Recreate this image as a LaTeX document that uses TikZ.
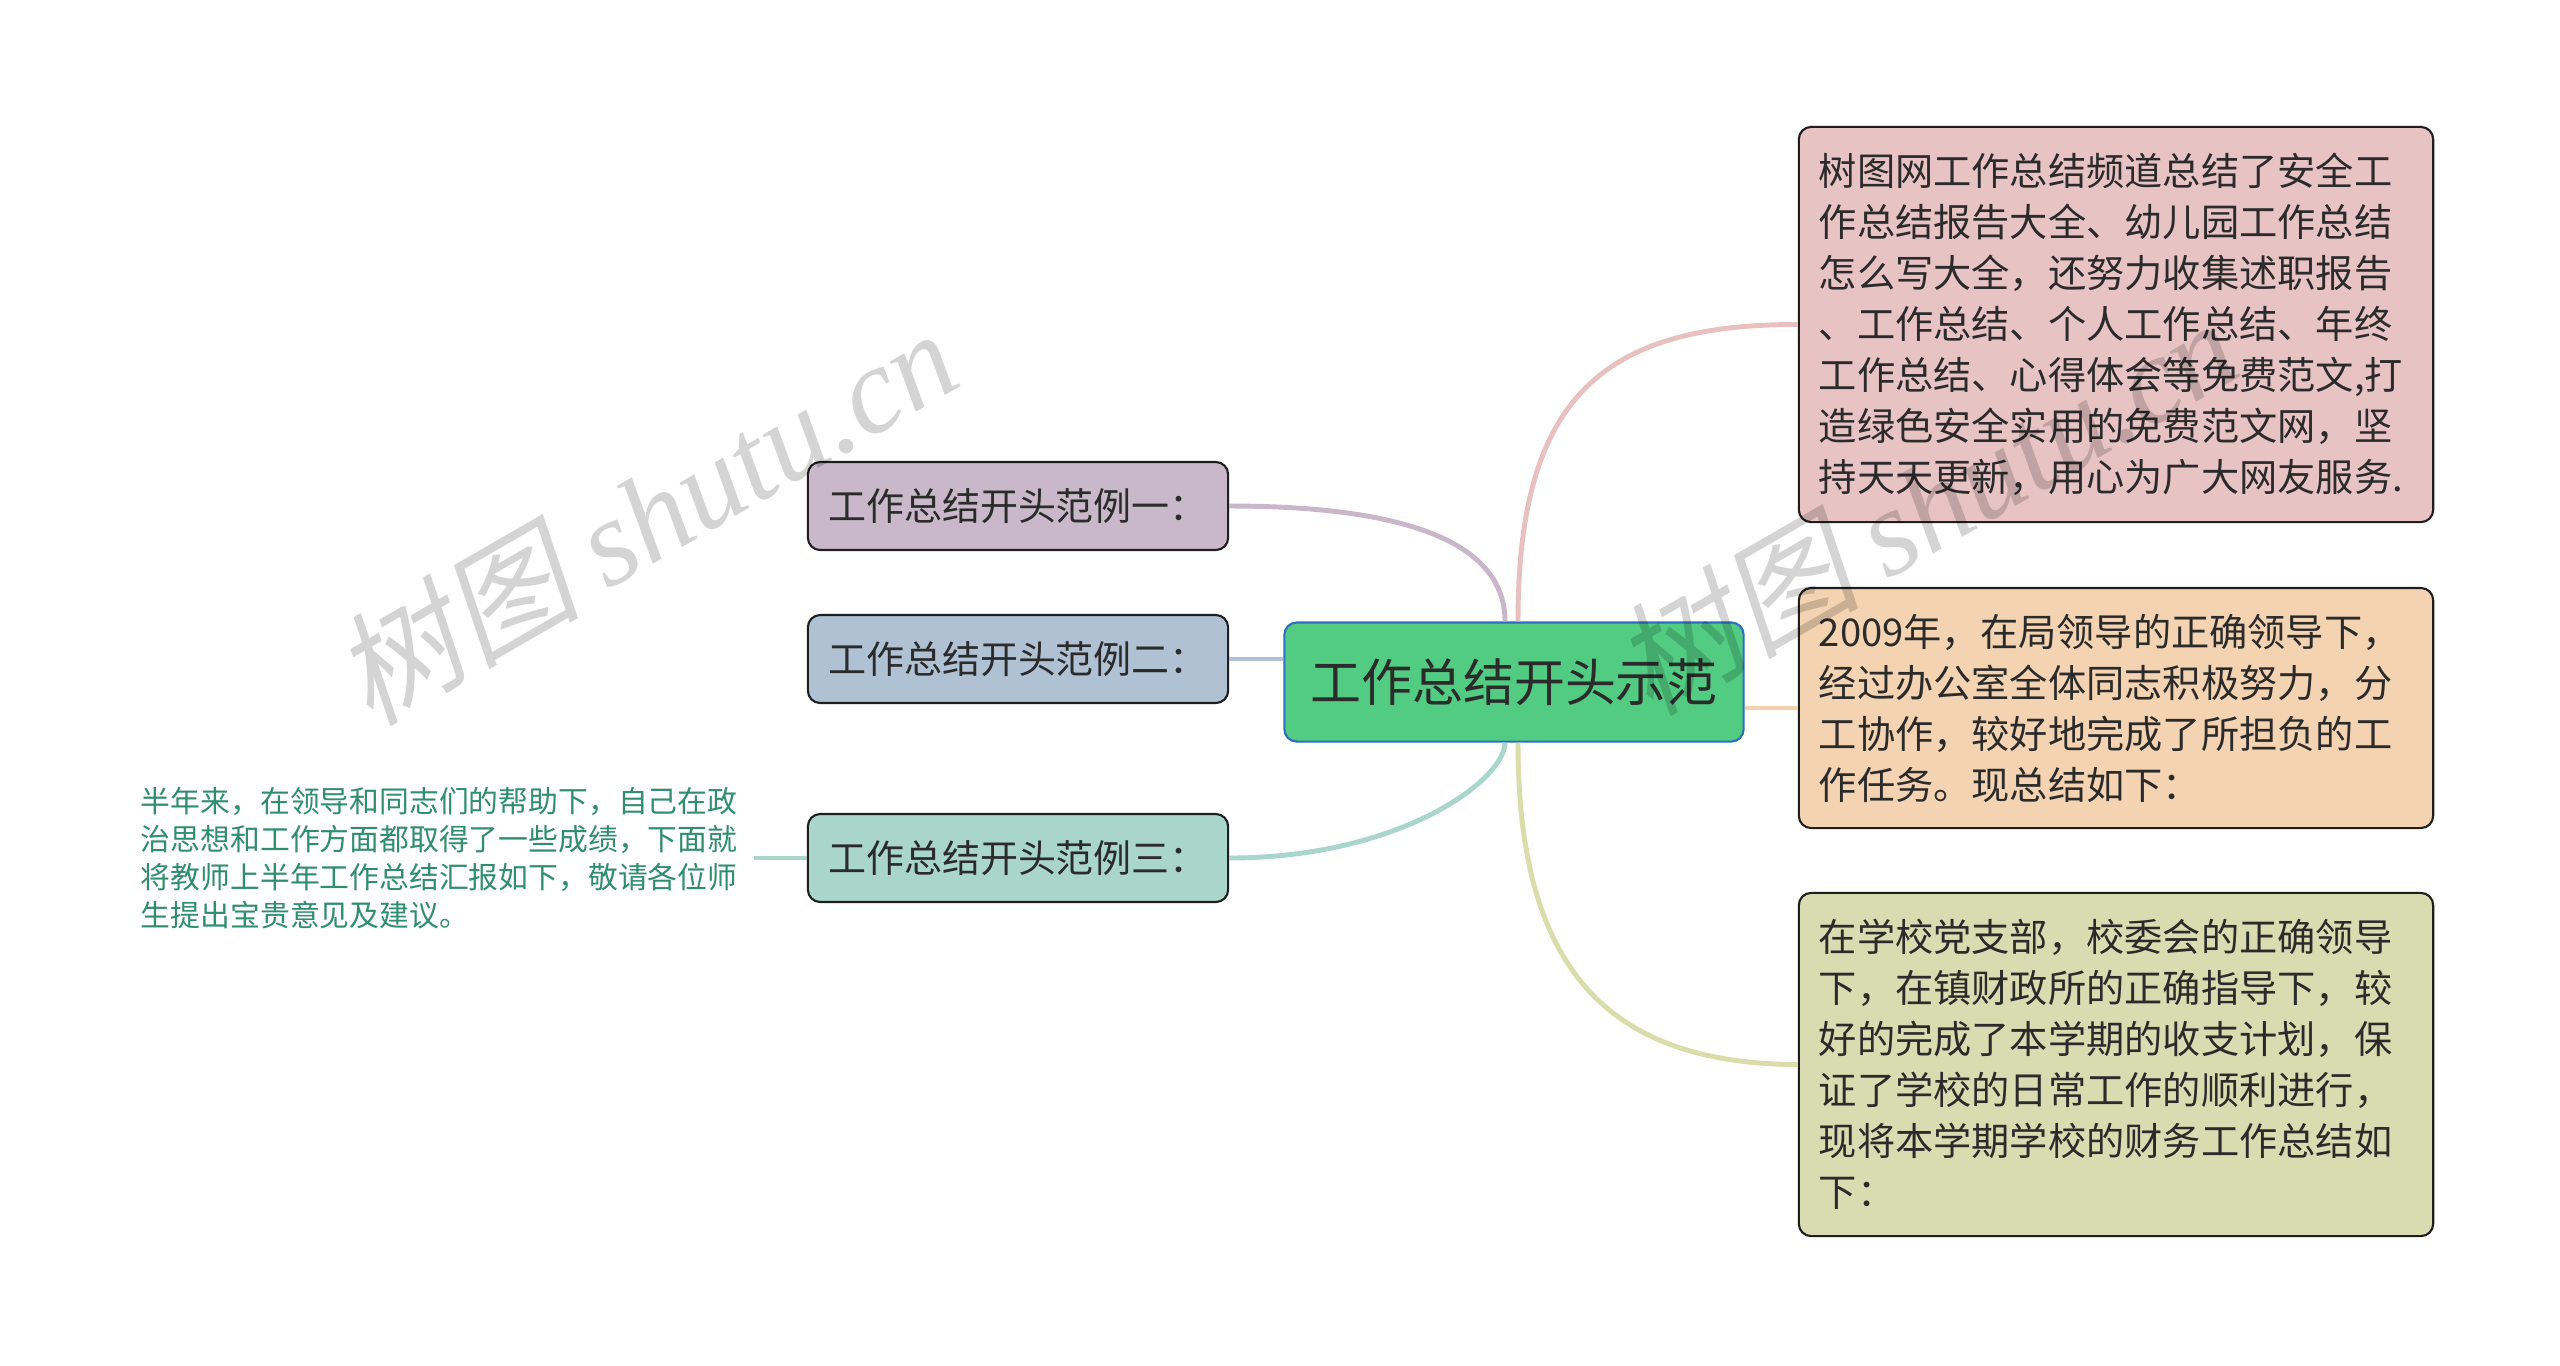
\documentclass[tikz,border=0pt]{standalone}
\usepackage{fontspec}
\setmainfont{Noto Sans CJK SC}
\newfontfamily\wmcjk{Noto Sans CJK SC}[FakeSlant=0.2]
\newfontfamily\wmlat{Liberation Serif}
\usetikzlibrary{calc}
\definecolor{txt}{HTML}{2B2B2B}
\definecolor{boxline}{HTML}{1E1E1E}
\definecolor{cfill}{HTML}{52CC82}
\definecolor{cline}{HTML}{2D6FBF}
\definecolor{fA}{HTML}{C8B8C9}
\definecolor{fB}{HTML}{B0C1D3}
\definecolor{fC}{HTML}{A9D5CB}
\definecolor{fR}{HTML}{E8C3C3}
\definecolor{fS}{HTML}{F3D3B1}
\definecolor{fT}{HTML}{D9DCB0}
\definecolor{kA}{HTML}{C9B6CA}
\definecolor{kB}{HTML}{B1C1D3}
\definecolor{kC}{HTML}{A9D5CB}
\definecolor{kR}{HTML}{E8C0C0}
\definecolor{kS}{HTML}{F3D1AE}
\definecolor{kT}{HTML}{D8DDAA}
\definecolor{leaftxt}{HTML}{2F8E70}
\begin{document}
\begin{tikzpicture}[x=0.01cm,y=-0.01cm,
  box/.style={draw=boxline, line width=0.6pt, rounded corners=3.5pt, inner sep=0pt, text=txt},
  leftbox/.style={box, minimum width=4.2cm, minimum height=0.88cm, font=\fontsize{10.8pt}{13pt}\selectfont},
  rightbox/.style={box, minimum width=6.34cm, text width=5.94cm, align=left, font=\fontsize{10.87pt}{14.5pt}\selectfont},
  conn/.style={line width=1.4pt},
  wm/.style={text=black, text opacity=0.17, inner sep=0pt, font=\fontsize{35pt}{35pt}\selectfont}
]
\useasboundingbox (0,0) rectangle (2560,1365);
\fill[white] (0,0) rectangle (2560,1365);

% central node
\node[box, draw=cline, fill=cfill, minimum width=4.59cm, minimum height=1.19cm,
      font=\fontsize{14.5pt}{17pt}\selectfont] (c) at (1514,682) {工作总结开头示范};

% left nodes
\node[leftbox, fill=fA] (l1) at (1018,506) {工作总结开头范例一：};
\node[leftbox, fill=fB] (l2) at (1018,659) {工作总结开头范例二：};
\node[leftbox, fill=fC] (l3) at (1018,858) {工作总结开头范例三：};

% left leaf text
\node[anchor=east, text width=5.96cm, align=left, inner xsep=0.16cm, inner ysep=0pt,
      text=leaftxt, font=\fontsize{8.48pt}{10.8pt}\selectfont] (lt) at (754,858)
  {半年来，在领导和同志们的帮助下，自己在政\\治思想和工作方面都取得了一些成绩，下面就\\将教师上半年工作总结汇报如下，敬请各位师\\生提出宝贵意见及建议。};

% right nodes
\node[rightbox, fill=fR, minimum height=3.95cm] (r1) at (2116,324.5)
  {树图网工作总结频道总结了安全工\\作总结报告大全、幼儿园工作总结\\怎么写大全，还努力收集述职报告\\、工作总结、个人工作总结、年终\\工作总结、心得体会等免费范文,打\\造绿色安全实用的免费范文网，坚\\持天天更新，用心为广大网友服务.};
\node[rightbox, fill=fS, minimum height=2.40cm] (r2) at (2116,708)
  {2009年，在局领导的正确领导下，\\经过办公室全体同志积极努力，分\\工协作，较好地完成了所担负的工\\作任务。现总结如下：};
\node[rightbox, fill=fT, minimum height=3.43cm] (r3) at (2116,1064.5)
  {在学校党支部，校委会的正确领导\\下，在镇财政所的正确指导下，较\\好的完成了本学期的收支计划，保\\证了学校的日常工作的顺利进行，\\现将本学期学校的财务工作总结如\\下：};

% connectors
\draw[conn, kA] (l1.east) .. controls (1400,506) and (1505,540) .. ($(c.north)+(-9,0)$);
\draw[conn, kB] (l2.east) -- (c.west |- l2.east);
\draw[conn, kC] (l3.east) .. controls (1400,858) and (1505,780) .. ($(c.south)+(-9,0)$);
\draw[conn, kC] (lt.east) -- (l3.west);
\draw[conn, kR] ($(c.north)+(4,0)$) .. controls (1518,400) and (1600,324) .. (r1.west);
\draw[conn, kS] (c.east |- r2.west) -- (r2.west);
\draw[conn, kT] ($(c.south)+(4,0)$) .. controls (1518,960) and (1600,1064) .. (r3.west);

% watermarks
\node[wm, rotate=30] (wm1) at (645,515) {{\wmcjk 树图} {\wmlat\itshape shutu.cn}};
\node[wm, rotate=30] (wm2) at (1925,505) {{\wmcjk 树图} {\wmlat\itshape shutu.cn}};
\end{tikzpicture}
\end{document}
